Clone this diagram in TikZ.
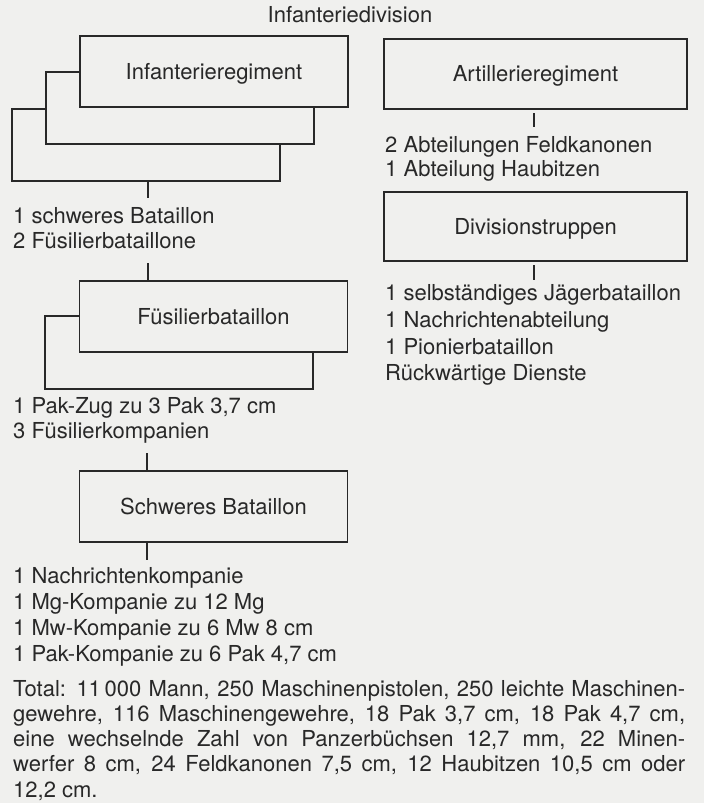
\documentclass[tikz,border=0pt]{standalone}
\usepackage{fontspec}
\setmainfont{TeX Gyre Heros}
\definecolor{paper}{RGB}{240,240,238}
\definecolor{ink}{RGB}{40,40,40}
\begin{document}
\begin{tikzpicture}[x=1pt,y=-1pt,
  every node/.style={font=\fontsize{22}{26}\selectfont, text=ink},
  box/.style={draw=ink, line width=1.2pt, fill=paper, inner sep=0pt,
    text height=15.8pt, text depth=0pt, minimum width=268pt, minimum height=71pt},
  wide/.style={box, minimum width=303pt, minimum height=70pt},
  lbl/.style={anchor=base west, inner sep=0pt},
  conn/.style={draw=ink, line width=1.2pt}]
\fill[paper] (0,0) rectangle (704,803);
\useasboundingbox (0,0) rectangle (704,803);

% title
\node[anchor=base, inner sep=0pt] (title) at (350,23) {Infanteriedivision};

% Infanterieregiment (three stacked boxes)
\node[box, minimum height=72pt] (ir3) at (146,145) {};
\node[box, minimum height=72pt] (ir2) at (180,108) {};
\node[box] (ir) at (214,71.5) {Infanterieregiment};
\coordinate (c1) at (148,198);
\draw[conn] (c1 |- ir3.south) -- (c1);
\node[lbl] (l1) at (13,223) {1 schweres Bataillon};
\node[lbl] (l2) at (13,248) {2 Füsilierbataillone};

% Fusilierbataillon (two stacked boxes)
\coordinate (c2) at (148,263);
\node[box, minimum height=73pt] (fb2) at (179,352.5) {};
\node[box] (fb) at (213.5,316.5) {Füsilierbataillon};
\draw[conn] (c2) -- (c2 |- fb.north);
\node[lbl] (l3) at (13,413) {1 Pak-Zug zu 3 Pak 3,7 cm};
\node[lbl] (l4) at (13,438) {3 Füsilierkompanien};

% Schweres Bataillon
\node[box] (sb) at (213.5,506.5) {Schweres Bataillon};
\coordinate (c3) at (147,453);
\draw[conn] (c3) -- (c3 |- sb.north);
\coordinate (c4) at (147,560);
\draw[conn] (c4 |- sb.south) -- (c4);
\node[lbl] (l5) at (13,583) {1 Nachrichtenkompanie};
\node[lbl] (l6) at (13,609) {1 Mg-Kompanie zu 12 Mg};
\node[lbl] (l7) at (13,635) {1 Mw-Kompanie zu 6 Mw 8 cm};
\node[lbl] (l8) at (13,661) {1 Pak-Kompanie zu 6 Pak 4,7 cm};

% Artillerieregiment
\node[wide] (ar) at (535.5,74) {Artillerieregiment};
\coordinate (c5a) at (534,113);
\coordinate (c5b) at (534,127);
\draw[conn] (c5a) -- (c5b);
\node[lbl] (r1) at (385,152) {2 Abteilungen Feldkanonen};
\node[lbl] (r2) at (385,176) {1 Abteilung Haubitzen};

% Divisionstruppen
\node[wide, minimum height=69pt] (dt) at (535.5,226.5) {Divisionstruppen};
\coordinate (c6a) at (534,265);
\coordinate (c6b) at (534,280);
\draw[conn] (c6a) -- (c6b);
\node[lbl] (r3) at (385,300.5) {1 selbständiges Jägerbataillon};
\node[lbl] (r4) at (385,327.5) {1 Nachrichtenabteilung};
\node[lbl] (r5) at (385,354.5) {1 Pionierbataillon};
\node[lbl] (r6) at (385,380) {Rückwärtige Dienste};

% Total paragraph
\node[lbl] (t1) at (13,696) {\makebox[672pt][s]{Total: 11\,000 Mann, 250 Maschinenpistolen, 250 leichte Maschinen-}};
\node[lbl] (t2) at (13,721.3) {\makebox[672pt][s]{gewehre, 116 Maschinengewehre, 18 Pak 3,7 cm, 18 Pak 4,7 cm,}};
\node[lbl] (t3) at (13,746.5) {\makebox[672pt][s]{eine wechselnde Zahl von Panzerbüchsen 12,7 mm, 22 Minen-}};
\node[lbl] (t4) at (13,771.8) {\makebox[672pt][s]{werfer 8 cm, 24 Feldkanonen 7,5 cm, 12 Haubitzen 10,5 cm oder}};
\node[lbl] (t5) at (13,797) {12,2 cm.};
\end{tikzpicture}
\end{document}
